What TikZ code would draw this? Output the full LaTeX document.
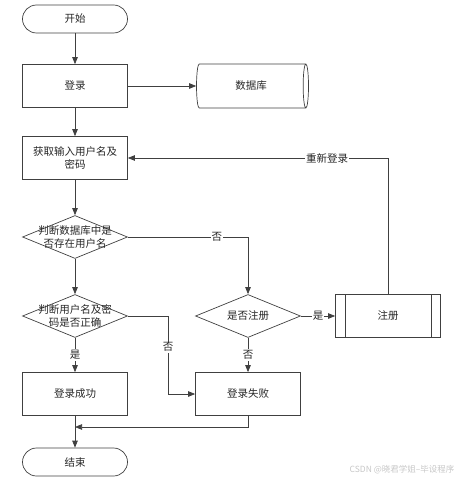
\documentclass[tikz,border=0pt]{standalone}
\usepackage{fontspec}
\setmainfont{Noto Sans CJK SC}
\usetikzlibrary{shapes.geometric,arrows.meta}
\begin{document}
\begin{tikzpicture}[x=1pt,y=-1pt,
  line/.style={draw=black!75, line width=0.7pt},
  arr/.style={line, -{Triangle[length=7pt,width=5.5pt]}},
  fnt/.style={font=\fontsize{10.5}{12.5}\selectfont, text=black!85},
  box/.style={draw=black!75, line width=0.7pt, minimum width=105pt, minimum height=43pt, inner sep=2pt, fnt, align=center},
  term/.style={box, rounded corners=14pt, minimum height=28pt},
  dia/.style={draw=black!75, line width=0.7pt, diamond, minimum width=105pt, minimum height=43pt, inner sep=0pt},
  txt/.style={fnt, align=center, inner sep=0pt},
  lab/.style={fill=white, inner sep=1pt, fnt},
]
\useasboundingbox (0,0) rectangle (461,481);

\node[term] (start) at (75,19) {开始};
\node[box] (login) at (75,86) {登录};
\node[draw=black!75, line width=0.7pt, cylinder, shape border rotate=0, aspect=0.55, minimum width=44pt, minimum height=112pt, inner sep=0pt, fnt] (db) at (251,86) {数据库};
\node[box] (input) at (75,158) {获取输入用户名及\\密码};
\node[dia] (d1) at (75,237) {};
\node[txt] (d1t) at (75,237) {判断数据库中是\\否存在用户名};
\node[dia] (d2) at (75,316) {};
\node[txt] (d2t) at (75,316) {判断用户名及密\\码是否正确};
\node[dia] (d3) at (248,316) {};
\node[txt] (d3t) at (248,316) {是否注册};
\node[box] (reg) at (388,316) {注册};
\draw[line] ([xshift=10pt]reg.north west) -- ([xshift=10pt]reg.south west);
\draw[line] ([xshift=-10pt]reg.north east) -- ([xshift=-10pt]reg.south east);
\node[box] (ok) at (75,394) {登录成功};
\node[box] (fail) at (248,394) {登录失败};
\node[term] (end) at (75,462) {结束};

\coordinate (j) at (75,427);

\draw[arr] (start) -- (login);
\draw[arr] (login) -- (db);
\draw[arr] (login) -- (input);
\draw[arr] (input) -- (d1);
\draw[arr] (d1) -- (d2);
\draw[arr] (d1.east) -| node[lab, pos=0.37] {否} (d3.north);
\draw[arr] (d3) -- node[lab, pos=0.5] {是} (reg);
\draw[arr] (reg.north) |- node[lab, pos=0.617] {重新登录} (input.east);
\draw[arr] (d3) -- node[lab, pos=0.5] {否} (fail);
\draw[arr] (d2) -- node[lab, pos=0.5] {是} (ok);
\draw[arr] (d2.east) -| (168,394) node[lab, pos=0.7] {否} -- (fail.west);
\draw[arr] (fail.south) |- (j);
\draw[arr] (ok) -- (end);

\node[font=\fontsize{8.5}{10}\selectfont, text=black!22, anchor=east] (wm) at (458,470) {CSDN @晓君学姐--毕设程序};
\end{tikzpicture}
\end{document}
